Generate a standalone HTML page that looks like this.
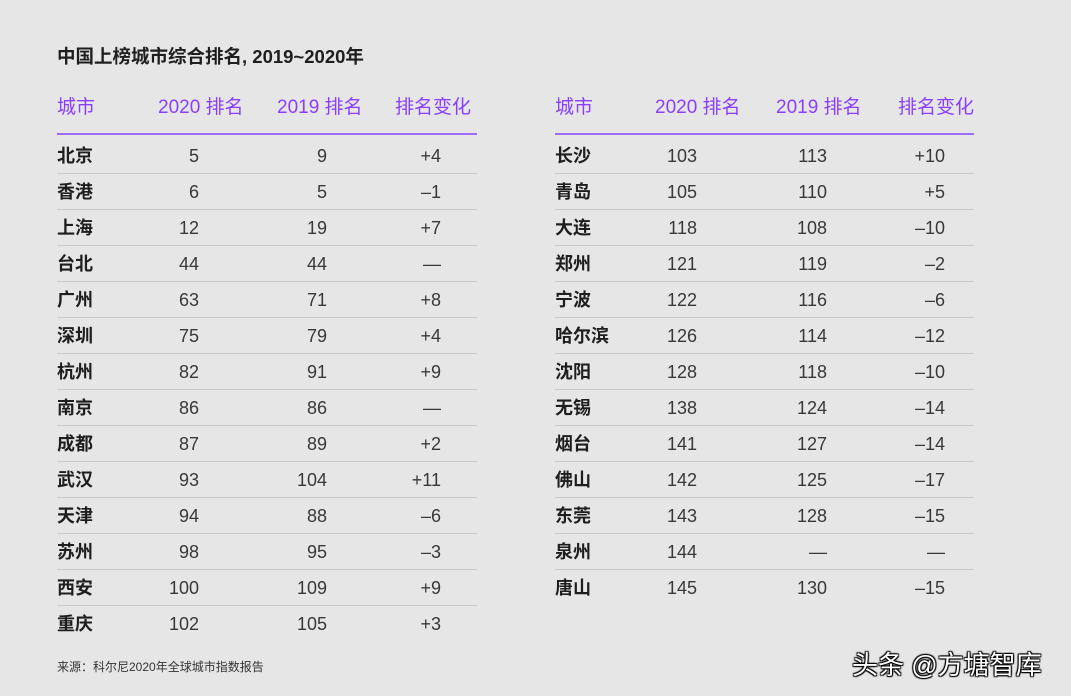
<!DOCTYPE html>
<html><head><meta charset="utf-8">
<style>
html,body{margin:0;padding:0;}
body{width:1071px;height:696px;background:#e6e6e6;position:relative;overflow:hidden;font-family:"Liberation Sans","Noto Sans CJK SC",sans-serif;color:#2a2a2a;}
.a{position:absolute;white-space:nowrap;}
.title{left:57px;top:43px;font-size:18.5px;font-weight:bold;color:#1e1e1e;}
.hd{top:92px;font-size:19px;color:#8a3ffc;}
.pl{position:absolute;height:2px;background:#a06bff;top:133px;}
.city{font-size:18px;font-weight:bold;color:#1e1e1e;}
.num{font-size:18px;color:#383838;text-align:right;width:60px;}
.sep{position:absolute;height:1px;background:#c9c9c9;}
.src{left:57px;top:658px;font-size:12px;color:#333;}
.wm{left:852px;top:645px;font-size:26px;color:#fff;text-shadow:1px 1px 1px #000,-1px -1px 1px #000,1px -1px 1px #000,-1px 1px 1px #000;}
</style></head>
<body>
<div class="a title">中国上榜城市综合排名, 2019~2020年</div>

<div class="a hd" style="left:57px">城市</div>
<div class="a hd" style="left:158px">2020 排名</div>
<div class="a hd" style="left:277px">2019 排名</div>
<div class="a hd" style="left:395px">排名变化</div>
<div class="pl" style="left:57px;width:420px"></div>

<div class="a hd" style="left:555px">城市</div>
<div class="a hd" style="left:655px">2020 排名</div>
<div class="a hd" style="left:776px">2019 排名</div>
<div class="a hd" style="left:898px">排名变化</div>
<div class="pl" style="left:555px;width:419px"></div>

<div class="a src">来源：科尔尼2020年全球城市指数报告</div>
<div class="a wm">头条 @方塘智库</div>

<script>
const leftCities=["北京","香港","上海","台北","广州","深圳","杭州","南京","成都","武汉","天津","苏州","西安","重庆"];
const left2020=["5","6","12","44","63","75","82","86","87","93","94","98","100","102"];
const left2019=["9","5","19","44","71","79","91","86","89","104","88","95","109","105"];
const leftChange=["+4","–1","+7","—","+8","+4","+9","—","+2","+11","–6","–3","+9","+3"];
const rightCities=["长沙","青岛","大连","郑州","宁波","哈尔滨","沈阳","无锡","烟台","佛山","东莞","泉州","唐山"];
const right2020=["103","105","118","121","122","126","128","138","141","142","143","144","145"];
const right2019=["113","110","108","119","116","114","118","124","127","125","128","—","130"];
const rightChange=["+10","+5","–10","–2","–6","–12","–10","–14","–14","–17","–15","—","–15"];

function rowY(i){return 144+i*36;}
function build(cities,c20,c19,chg,x0,w,r20,r19,rch,side){
  for(let i=0;i<cities.length;i++){
    const y=rowY(i);
    const c=document.createElement('div');
    c.className='a city';c.style.left=x0+'px';c.style.top=(y-2)+'px';c.textContent=cities[i];
    
    
    document.body.appendChild(c);
    [[c20[i],r20,'rank-2020'],[c19[i],r19,'rank-2019'],[chg[i],rch,'rank-change']].forEach(function(p){
      const d=document.createElement('div');
      d.className='a num';d.style.left=(p[1]-60)+'px';d.style.top=(y+2)+'px';d.textContent=p[0];
      
      
      document.body.appendChild(d);
    });
    if(i<cities.length-1){
      const s=document.createElement('div');
      s.className='sep';s.style.left=x0+'px';s.style.width=w+'px';s.style.top=(y+29)+'px';
      
      
      document.body.appendChild(s);
    }
  }
}
build(leftCities,left2020,left2019,leftChange,57,420,199,327,441,'left');
build(rightCities,right2020,right2019,rightChange,555,419,697,827,945,'right');
</script>
</body></html>
